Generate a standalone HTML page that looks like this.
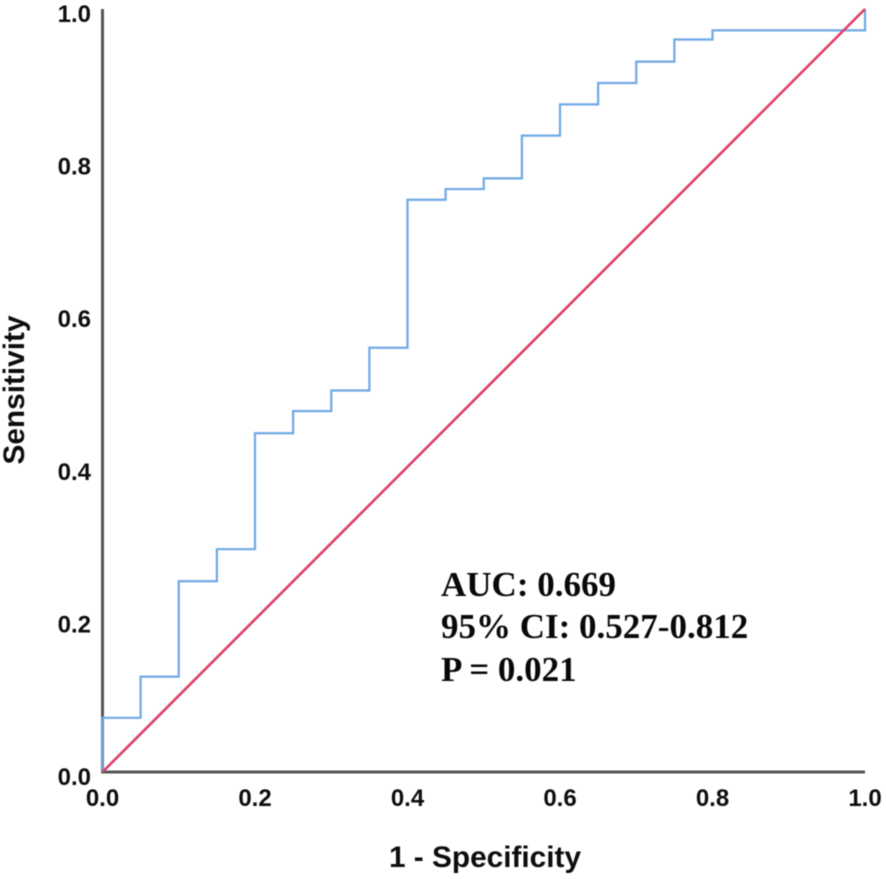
<!DOCTYPE html>
<html>
<head>
<meta charset="utf-8">
<style>
html,body{margin:0;padding:0;background:#fff;width:886px;height:879px;overflow:hidden}
svg{display:block;font-family:"Liberation Sans",sans-serif;filter:blur(0.4px)}
.tick{font-size:24px;font-weight:bold;fill:#0d0d0d}
.title{font-size:29.8px;font-weight:bold;fill:#0d0d0d}
.note{font-family:"Liberation Serif",serif;font-size:35px;font-weight:bold;fill:#080808}
</style>
</head>
<body>
<svg id="chart" width="886" height="879" viewBox="0 0 886 879" xmlns="http://www.w3.org/2000/svg">
  <rect width="886" height="879" fill="#fff"/>
  <text class="title" x="485" y="867" text-anchor="middle">1 - Specificity</text>
  <text class="title" x="0" y="0" text-anchor="middle" transform="translate(24,390) rotate(-90)">Sensitivity</text>
  <g id="annotation">
    <text class="note" x="441" y="596">AUC: 0.669</text>
    <text class="note" x="441" y="638">95% CI: 0.527-0.812</text>
    <text class="note" x="441" y="681">P = 0.021</text>
  </g>
</svg>
<script>
var tickLabels = ["0.0", "0.2", "0.4", "0.6", "0.8", "1.0"];
var tickValues = [0, 0.2, 0.4, 0.6, 0.8, 1];
var rocFpr = [0, 0.05, 0.1, 0.15, 0.2, 0.25, 0.3, 0.35, 0.4, 0.45, 0.5, 0.55, 0.6, 0.65, 0.7, 0.75, 0.8, 1];
var rocTpr = [0.071, 0.125, 0.25, 0.292, 0.444, 0.473, 0.5, 0.556, 0.75, 0.764, 0.778, 0.834, 0.875, 0.903, 0.931, 0.96, 0.972, 1];
var refX = [0, 1];
var refY = [0, 1];

var NS = 'http://www.w3.org/2000/svg';
var svg = document.getElementById('chart');
function xScale(v) { return 102.5 + v * 762.5; }
function yScale(v) { return 772 - v * 763; }
function make(tag, attrs) {
  var el = document.createElementNS(NS, tag);
  for (var k in attrs) el.setAttribute(k, attrs[k]);
  return el;
}

var yAxis = make('line', {x1: xScale(0), x2: xScale(0), y1: yScale(0) + 1, y2: yScale(1), stroke: '#555', 'stroke-width': 3});


svg.appendChild(yAxis);

var xAxis = make('line', {x1: xScale(0) - 1, x2: xScale(1), y1: yScale(0), y2: yScale(0), stroke: '#555', 'stroke-width': 3});


svg.appendChild(xAxis);

tickValues.forEach(function (v, i) {
  var xt = make('text', {x: xScale(v), y: 806, 'text-anchor': 'middle', 'class': 'tick'});
  xt.textContent = tickLabels[i];
  
  
  svg.appendChild(xt);

  var yt = make('text', {x: 91, y: yScale(v) + 13, 'text-anchor': 'end', 'class': 'tick'});
  yt.textContent = tickLabels[i];
  
  
  svg.appendChild(yt);
});

var d = 'M' + xScale(0) + ' ' + yScale(0);
rocFpr.forEach(function (f, i) {
  d += ' L' + xScale(f) + ' ' + yScale(i === 0 ? 0 : rocTpr[i - 1]);
  d += ' L' + xScale(f) + ' ' + yScale(rocTpr[i]);
});
var roc = make('path', {d: d, fill: 'none', stroke: '#6fa8e6', 'stroke-width': 2.2});


svg.appendChild(roc);

var ref = make('line', {x1: xScale(refX[0]), y1: yScale(refY[0]), x2: xScale(refX[1]), y2: yScale(refY[1]), stroke: '#dc3f66', 'stroke-width': 2.6});


svg.appendChild(ref);
</script>
</body>
</html>
